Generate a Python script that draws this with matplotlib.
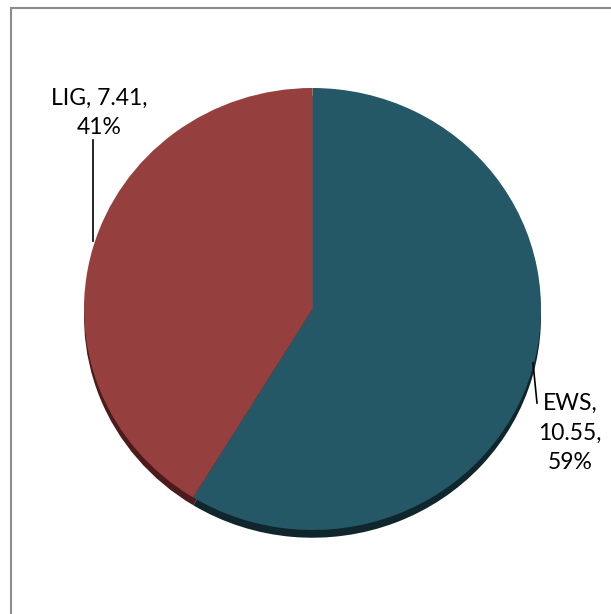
import matplotlib
matplotlib.use("Agg")
import matplotlib.pyplot as plt
from matplotlib.lines import Line2D
from matplotlib.patches import Rectangle

categories = ["EWS", "LIG"]
values = [10.55, 7.41]
colors = ["#245866", "#953F3E"]
shadow_colors = ["#0F262C", "#4E1B1A"]

W, H = 611, 614
fig = plt.figure(figsize=(W / 100, H / 100), dpi=100)
fig.patch.set_facecolor("white")

def fx(x):
    return x / W

def fy(y):
    return 1 - y / H

# chart border (only top/left visible)
fig.add_artist(Rectangle((fx(11), fy(640)), fx(640) - fx(11), fy(8) - fy(640),
                         transform=fig.transFigure, fill=False,
                         edgecolor="#8C8C8C", linewidth=1.5))

# pie axes
x0, x1, y0, y1 = 84, 541, 88, 530
ax = fig.add_axes([fx(x0), fy(y1), fx(x1) - fx(x0), fy(y0) - fy(y1)])
ax.pie(values, colors=shadow_colors, startangle=90, counterclock=False,
       radius=1.0, center=(0, -0.035), wedgeprops=dict(linewidth=0))
ax.pie(values, colors=colors, startangle=90, counterclock=False,
       radius=1.0, center=(0, 0), wedgeprops=dict(linewidth=0))
ax.set_aspect("auto")
ax.set_xlim(-1, 1)
ax.set_ylim(-1.0, 1.0)
ax.set_axis_off()

total = sum(values)
labels = [f"{c}, {v:.2f},\n{round(100 * v / total)}%" for c, v in zip(categories, values)]
labels[0] = labels[0].replace(", 10", ",\n10")

font = dict(family=["Lato", "DejaVu Sans"], fontsize=16.5, color="black")

# LIG label
fig.text(fx(99), fy(113), labels[1], ha="center", va="center",
         multialignment="center", linespacing=1.5, **font)
fig.add_artist(Line2D([fx(93), fx(93)], [fy(140), fy(241)],
                      transform=fig.transFigure, color="black", linewidth=1.2))

# EWS label
fig.text(fx(570), fy(433), labels[0], ha="center", va="center",
         multialignment="center", linespacing=1.5, **font)
fig.add_artist(Line2D([fx(533), fx(537)], [fy(363), fy(403)],
                      transform=fig.transFigure, color="black", linewidth=1.2))

fig.savefig("out.png", dpi=100, facecolor="white")
